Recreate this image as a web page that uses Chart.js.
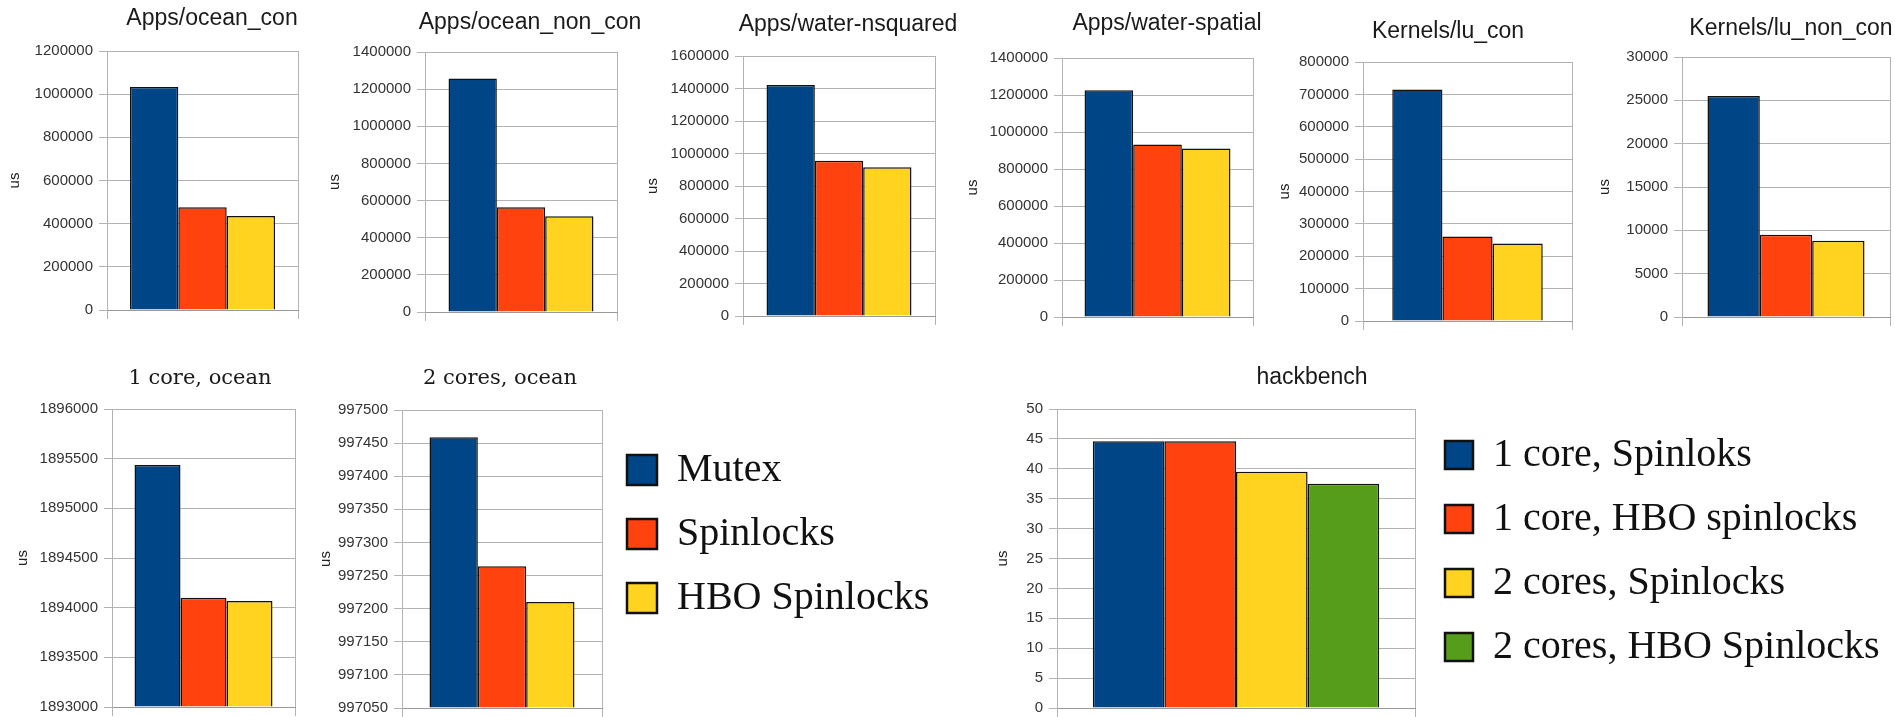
<!DOCTYPE html>
<html lang="en">
<head>
<meta charset="UTF-8">
<title>Spinlock benchmarks</title>
<script src="https://cdn.jsdelivr.net/npm/chart.js@4.4.0/dist/chart.umd.min.js"></script>
<style>
  html, body { margin: 0; padding: 0; background: #fff; overflow: hidden; }
  body { width: 1895px; height: 717px; position: relative; }
  canvas { position: absolute; }
</style>
</head>
<body>
<script>
// series names
const lockNames = ['Mutex', 'Spinlocks', 'HBO Spinlocks'];
const hackNames = ['1 core, Spinloks', '1 core, HBO spinlocks', '2 cores, Spinlocks', '2 cores, HBO Spinlocks'];
const colors = ['#004586', '#ff420e', '#ffd320', '#579d1c'];

// top row, run time in us
const benchTitles = ['Apps/ocean_con', 'Apps/ocean_non_con', 'Apps/water-nsquared', 'Apps/water-spatial', 'Kernels/lu_con', 'Kernels/lu_non_con'];
const mutexUs = [1033000, 1257000, 1422000, 1226000, 715000, 25500];
const spinUs = [476000, 564000, 955000, 933000, 261000, 9500];
const hboUs = [435000, 516000, 915000, 911000, 239000, 8800];
const benchMax = [1200000, 1400000, 1600000, 1400000, 800000, 30000];
const benchStep = [200000, 200000, 200000, 200000, 100000, 5000];

// bottom row, ocean on 1 and 2 cores
const oceanTitles = ['1 core, ocean', '2 cores, ocean'];
const oceanMutex = [1895435, 997459];
const oceanSpin = [1894100, 997264];
const oceanHbo = [1894068, 997210];
const oceanMin = [1893000, 997050];
const oceanMax = [1896000, 997500];
const oceanStep = [500, 50];

// hackbench
const hackTitle = 'hackbench';
const hackUs = [44.6, 44.6, 39.5, 37.5];

// where each plot sits on the page (plot box, title centre, "us" label x)
const topBoxes = [
  {l: 107, r: 298, t: 51, b: 311, tx: 212, ty: 19, ux: 15, cat: 0.76},
  {l: 425, r: 617, t: 52, b: 313, tx: 530, ty: 23, ux: 335, cat: 0.755},
  {l: 743, r: 935, t: 56, b: 317, tx: 848, ty: 25, ux: 653, cat: 0.755},
  {l: 1062, r: 1253, t: 58, b: 318, tx: 1167, ty: 24, ux: 973, cat: 0.764},
  {l: 1363, r: 1572, t: 62, b: 322, tx: 1448, ty: 32, ux: 1285, cat: 0.72},
  {l: 1682, r: 1890, t: 57, b: 318, tx: 1791, ty: 29, ux: 1605, cat: 0.755}
];
const oceanBoxes = [
  {l: 112, r: 295, t: 409, b: 708, tx: 200, ty: 379, ux: 23, cat: 0.754},
  {l: 402, r: 602, t: 410, b: 709, tx: 500, ty: 379, ux: 326, cat: 0.725}
];
const hackBox = {l: 1057, r: 1415, t: 409, b: 709, tx: 1312, ty: 378, ux: 1003, cat: 0.80};

Chart.defaults.font.family = '"Liberation Sans", Arial, sans-serif';
Chart.defaults.color = '#222';
Chart.defaults.animation = false;

const sansTitle = {family: '"Liberation Sans", Arial, sans-serif', size: 23, weight: 'normal'};
const serifTitle = {family: '"DejaVu Serif", serif', size: 21, weight: 'normal'};

function addCanvas(left, top, w, h) {
    const cv = document.createElement('canvas');
    cv.width = w;
    cv.height = h;
    cv.style.left = left + 'px';
    cv.style.top = top + 'px';
    document.body.appendChild(cv);
    return cv;
}

function makeChart(box, title, titleFont, names, values, yMin, yMax, yStep) {
    const lh = titleFont.size * 1.2;
    const cL = box.ux - 9;
    const cT = Math.round(box.ty - lh / 2);
    const W = 2 * (box.tx - cL);
    const H = box.b + 14 - cT;
    const yW = box.l - cL;
    const y2W = W - (box.r - cL);
    const cv = addCanvas(cL, cT, W, H);

    const datasets = names.map(function(n, k) {
        return {
            label: n,
            data: [values[k]],
            base: yMin,
            backgroundColor: colors[k],
            borderColor: '#111',
            borderWidth: 1.5,
            categoryPercentage: box.cat,
            barPercentage: 1,
            yAxisID: 'y'
        };
    });

    new Chart(cv, {
        type: 'bar',
        data: {labels: [''], datasets: datasets},
        options: {
            responsive: false,
            events: [],
            plugins: {
                legend: {display: false},
                tooltip: {enabled: false},
                title: {
                    display: true,
                    text: title,
                    font: titleFont,
                    color: '#1a1a1a',
                    padding: {top: 0, bottom: box.t - cT - lh}
                }
            },
            scales: {
                x: {
                    ticks: {display: false},
                    grid: {color: '#b3b3b3', tickLength: 9, offset: true},
                    border: {color: '#999'},
                    afterFit: function(s) { s.height = 14; }
                },
                y: {
                    min: yMin,
                    max: yMax,
                    ticks: {
                        stepSize: yStep,
                        font: {size: 15},
                        color: '#333',
                        padding: 6,
                        callback: function(v) { return String(v); }
                    },
                    grid: {color: '#b3b3b3', tickLength: 8},
                    border: {color: '#b3b3b3'},
                    title: {display: true, text: 'us', font: {size: 15}, color: '#222', padding: 0},
                    afterFit: function(s) { s.width = yW; }
                },
                y2: {
                    position: 'right',
                    grid: {display: false},
                    border: {display: false},
                    ticks: {display: false},
                    afterFit: function(s) { s.width = y2W; }
                }
            }
        }
    });
}

function makeLegend(names, left, top, w, h, boxSize) {
    const cv = addCanvas(left, top, w, h);
    new Chart(cv, {
        type: 'bar',
        data: {
            labels: [],
            datasets: names.map(function(n, k) {
                return {label: n, data: [], backgroundColor: colors[k], borderColor: '#111', borderWidth: 2.5};
            })
        },
        options: {
            responsive: false,
            events: [],
            scales: {x: {display: false}, y: {display: false}},
            plugins: {
                tooltip: {enabled: false},
                legend: {
                    position: 'left',
                    align: 'center',
                    labels: {
                        font: {family: '"Liberation Serif", serif', size: 40},
                        color: '#111',
                        boxWidth: boxSize,
                        boxHeight: boxSize,
                        padding: 24
                    }
                }
            }
        }
    });
}

for (let i = 0; i < benchTitles.length; i++) {
    makeChart(topBoxes[i], benchTitles[i], sansTitle, lockNames,
        [mutexUs[i], spinUs[i], hboUs[i]], 0, benchMax[i], benchStep[i]);
}
for (let i = 0; i < oceanTitles.length; i++) {
    makeChart(oceanBoxes[i], oceanTitles[i], serifTitle, lockNames,
        [oceanMutex[i], oceanSpin[i], oceanHbo[i]], oceanMin[i], oceanMax[i], oceanStep[i]);
}
makeChart(hackBox, hackTitle, sansTitle, hackNames, hackUs, 0, 50, 5);

makeLegend(lockNames, 603, 400, 760, 268, 30);
makeLegend(hackNames, 1421, 380, 1000, 342, 28);
</script>
</body>
</html>
